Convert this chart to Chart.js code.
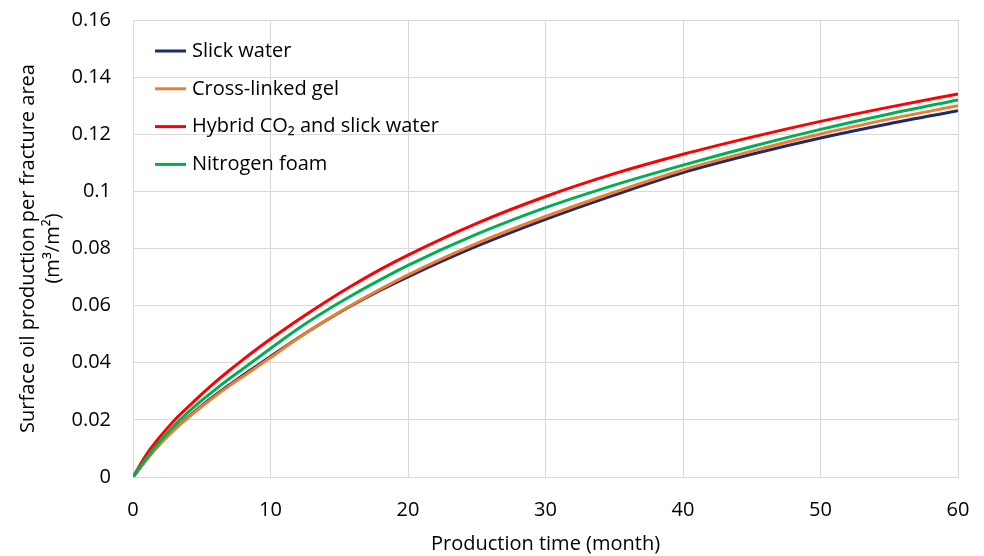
<!DOCTYPE html>
<html lang="en">
<head>
  <meta charset="UTF-8">
  <title>Surface oil production</title>
  <script src="https://cdn.jsdelivr.net/npm/chart.js"></script>
  <style>
    body { margin: 0; background: #fff; }
    #wrap { position: relative; width: 984px; height: 556px; }
  </style>
</head>
<body>
  <div id="wrap"><canvas id="chart"></canvas></div>

  <script>
    // months
    const months = [0, 1, 2, 3, 4, 5, 6, 7, 8, 10, 12, 14, 16, 18, 20, 25, 30, 35, 40, 45, 50, 55, 60];

    const slickWater = [0, 0.0062, 0.0118, 0.0167, 0.0210, 0.0250, 0.0287, 0.0322, 0.0356, 0.0422, 0.0487, 0.0547,
      0.0603, 0.0654, 0.0701, 0.0808, 0.0902, 0.0987, 0.1066, 0.1130, 0.1187, 0.1237, 0.1282];
    const crossLinkedGel = [0, 0.0062, 0.0118, 0.0166, 0.0208, 0.0247, 0.0284, 0.0319, 0.0352, 0.0418, 0.0486, 0.0548,
      0.0605, 0.0658, 0.0708, 0.0818, 0.0912, 0.0997, 0.1075, 0.1141, 0.1201, 0.1253, 0.1300];
    const hybridCO2 = [0, 0.0080, 0.0143, 0.0198, 0.0245, 0.0290, 0.0333, 0.0373, 0.0411, 0.0483, 0.0550, 0.0613,
      0.0672, 0.0727, 0.0777, 0.0888, 0.0982, 0.1062, 0.1130, 0.1190, 0.1245, 0.1295, 0.1341];
    const nitrogenFoam = [0, 0.0068, 0.0128, 0.0180, 0.0226, 0.0268, 0.0307, 0.0344, 0.0379, 0.0450, 0.0519, 0.0581,
      0.0638, 0.0691, 0.0741, 0.0850, 0.0943, 0.1022, 0.1092, 0.1157, 0.1217, 0.1271, 0.1320];

    const seriesNames = ['Slick water', 'Cross-linked gel', 'Hybrid CO\u2082 and slick water', 'Nitrogen foam'];
    const seriesColors = ['#1f2a6b', '#ed7d31', '#ff0000', '#00b050'];
    const seriesValues = [slickWater, crossLinkedGel, hybridCO2, nitrogenFoam];

    const FONT = '"Open Sans", "Noto Sans", sans-serif';

    function toPoints(vals) {
      return months.map((m, i) => ({ x: m, y: vals[i] }));
    }

    // legend drawn inside the plot, top-left
    const insideLegend = {
      id: 'insideLegend',
      afterDraw(chart) {
        const ctx = chart.ctx;
        const x0 = chart.chartArea.left + 22;
        let y = chart.chartArea.top + 31;
        ctx.save();
        ctx.font = '20px ' + FONT;
        ctx.textBaseline = 'middle';
        ctx.fillStyle = '#000';
        seriesNames.forEach((name, i) => {
          ctx.strokeStyle = seriesColors[i];
          ctx.lineWidth = 3;
          ctx.beginPath();
          ctx.moveTo(x0, y);
          ctx.lineTo(x0 + 31, y);
          ctx.stroke();
          ctx.fillText(name, x0 + 37, y);
          y += 37.8;
        });
        ctx.restore();
      }
    };

    new Chart(document.getElementById('chart'), {
      type: 'line',
      data: {
        datasets: seriesNames.map((name, i) => ({
          label: name,
          data: toPoints(seriesValues[i]),
          borderColor: seriesColors[i],
          backgroundColor: seriesColors[i],
          borderWidth: 3,
          pointRadius: 0,
          tension: 0.4,
          cubicInterpolationMode: 'monotone',
          order: 4 - i
        }))
      },
      options: {
        responsive: true,
        maintainAspectRatio: false,
        animation: false,
        layout: { padding: { top: 20, right: 26, left: 0, bottom: 0 } },
        plugins: {
          legend: { display: false },
          tooltip: { enabled: false }
        },
        scales: {
          x: {
            type: 'linear',
            min: 0,
            max: 60,
            ticks: { stepSize: 10, padding: 21, color: '#000', font: { family: FONT, size: 20 } },
            grid: { color: '#d9d9d9', drawTicks: false },
            border: { color: '#d9d9d9' },
            title: { display: true, text: 'Production time (month)', color: '#000',
              font: { family: FONT, size: 20 }, padding: { top: 4, bottom: 0 } },
            afterFit(scale) {
              scale.height = 79;
              scale.paddingLeft = 0;
              scale.paddingRight = 0;
            }
          },
          y: {
            min: 0,
            max: 0.16,
            ticks: {
              stepSize: 0.02,
              padding: 22,
              color: '#000',
              font: { family: FONT, size: 20 },
              callback: v => String(+v.toFixed(2))
            },
            grid: { color: '#d9d9d9', drawTicks: false },
            border: { color: '#d9d9d9' },
            title: { display: true, text: ['Surface oil production per fracture area', '(m\u00b3/m\u00b2)'],
              color: '#000', font: { family: FONT, size: 20, lineHeight: 1.25 }, padding: { top: 16, bottom: 4 } },
            afterFit(scale) {
              scale.width = 133;
              scale.paddingTop = 0;
              scale.paddingBottom = 0;
            }
          }
        }
      },
      plugins: [insideLegend]
    });
  </script>
</body>
</html>
